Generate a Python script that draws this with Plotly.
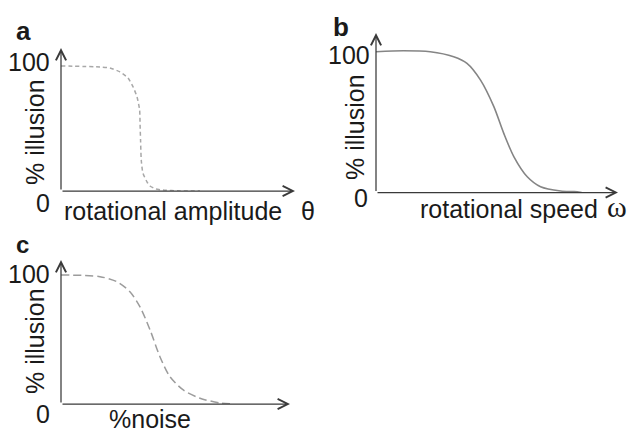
import plotly.graph_objects as go

W, H = 633, 434

# ---- data ----
a_x = [0, 16.7, 20.9, 25.2, 28.6, 30.8, 32.5, 33.6, 33.8, 34.0, 34.3, 35.0, 36.8, 38.0, 40.6, 43.6, 50.9, 59.4]
a_y = [97.7, 96.9, 96.1, 93.0, 88.3, 81.3, 73.4, 63.3, 51.6, 39.8, 24.2, 14.1, 7.0, 3.9, 1.6, 0.8, 0.0, 0.0]

b_x = [0, 11.3, 22.4, 32.1, 37.6, 43.2, 48.7, 52.8, 57.0, 62.5, 68.0, 76.3, 81.9, 85.0]
b_y = [101.7, 102.4, 101.7, 98.1, 93.3, 81.2, 62.0, 42.7, 25.8, 11.4, 4.2, 1.1, 0.6, 0.0]

c_x = [0, 17.0, 24.3, 30.1, 34.5, 38.9, 43.2, 47.6, 53.4, 60.7, 69.4, 75.1]
c_y = [98.5, 97.2, 93.4, 85.7, 74.1, 56.5, 36.1, 20.8, 10.7, 4.4, 0.8, 0.0]

panel_letters = ["a", "b", "c"]
y_title = "% illusion"
x_titles = ["rotational amplitude", "rotational speed", "%noise"]
x_symbols = ["θ", "ω", ""]
tick_labels = ["100", "0"]

# ---- layout geometry (pixels) ----
def px_dom(x0, x1, y0, y1):
    return [x0 / W, x1 / W], [1 - y1 / H, 1 - y0 / H]

ax_a = px_dom(61, 295, 48, 191)
ax_b = px_dom(376, 618, 33, 192.5)
ax_c = px_dom(61, 290, 260, 404)
ytop = {"a": 111.7, "b": 115.2, "c": 109.9}

fig = go.Figure()
fig.add_trace(go.Scatter(x=a_x, y=a_y, mode="lines", line=dict(color="#a8a8a8", width=1.5, dash="4px,3px", shape="spline", smoothing=0.6),
                         xaxis="x", yaxis="y", showlegend=False, hoverinfo="skip"))
fig.add_trace(go.Scatter(x=b_x, y=b_y, mode="lines", line=dict(color="#858585", width=1.6, shape="spline", smoothing=0.8),
                         xaxis="x2", yaxis="y2", showlegend=False, hoverinfo="skip"))
fig.add_trace(go.Scatter(x=c_x, y=c_y, mode="lines", line=dict(color="#9c9c9c", width=1.5, dash="8px,4px", shape="spline", smoothing=0.8),
                         xaxis="x3", yaxis="y3", showlegend=False, hoverinfo="skip"))

hidden = dict(visible=False, fixedrange=True)
fig.update_layout(
    width=W, height=H,
    margin=dict(l=0, r=0, t=0, b=0),
    paper_bgcolor="white", plot_bgcolor="rgba(0,0,0,0)",
    xaxis=dict(domain=ax_a[0], range=[0, 100], anchor="y", **hidden),
    yaxis=dict(domain=ax_a[1], range=[0, ytop["a"]], anchor="x", **hidden),
    xaxis2=dict(domain=ax_b[0], range=[0, 100], anchor="y2", **hidden),
    yaxis2=dict(domain=ax_b[1], range=[0, ytop["b"]], anchor="x2", **hidden),
    xaxis3=dict(domain=ax_c[0], range=[0, 100], anchor="y3", **hidden),
    yaxis3=dict(domain=ax_c[1], range=[0, ytop["c"]], anchor="x3", **hidden),
)

annots = []
# axis lines with open arrowheads
for xr, yr, key in [("x", "y", "a"), ("x2", "y2", "b"), ("x3", "y3", "c")]:
    for tx, ty in [(100, 0), (0, ytop[key])]:
        annots.append(dict(x=tx, y=ty, ax=0, ay=0, xref=xr, yref=yr, axref=xr, ayref=yr,
                           text="", showarrow=True, arrowhead=5, arrowsize=1.6, arrowwidth=1.25,
                           arrowcolor="#3a3a3a", standoff=0))

FONT = "Liberation Sans, Arial, sans-serif"
TXT = "#1a1a1a"

def txt(s, x, y, xanchor="center", size=25, bold=False, angle=0, family=FONT, yanchor="middle"):
    annots.append(dict(text=("<b>%s</b>" % s) if bold else s, x=x / W, y=1 - y / H,
                       xref="paper", yref="paper", xanchor=xanchor, yanchor=yanchor,
                       showarrow=False, textangle=angle, borderpad=0,
                       font=dict(family=family, size=size, color=TXT)))

# panel letters
txt(panel_letters[0], 23, 31, bold=True, size=26)
txt(panel_letters[1], 341, 27, bold=True, size=26)
txt(panel_letters[2], 22, 244, bold=True, size=24)

# tick labels
txt(tick_labels[0], 51, 62, xanchor="right")
txt(tick_labels[1], 51, 203, xanchor="right")
txt(tick_labels[0], 371, 55, xanchor="right")
txt(tick_labels[1], 369, 198, xanchor="right")
txt(tick_labels[0], 51, 274, xanchor="right")
txt(tick_labels[1], 51, 414, xanchor="right")

# y titles
txt(y_title, 35, 132, angle=-90)
txt(y_title, 355, 127, angle=-90)
txt(y_title, 35, 341, angle=-90)

# x titles
txt(x_titles[0], 63, 211, xanchor="left")
txt(x_symbols[0], 308, 211)
txt(x_titles[1], 419, 209, xanchor="left")
txt(x_symbols[1], 617, 206, size=30, family="Liberation Serif, Times New Roman, serif")
txt(x_titles[2], 108, 434, xanchor="left", yanchor="bottom")

fig.update_layout(annotations=annots)
fig.write_html("out.html", config={"displayModeBar": False},
               post_script="document.body.style.margin='0';document.body.style.overflow='hidden';")
